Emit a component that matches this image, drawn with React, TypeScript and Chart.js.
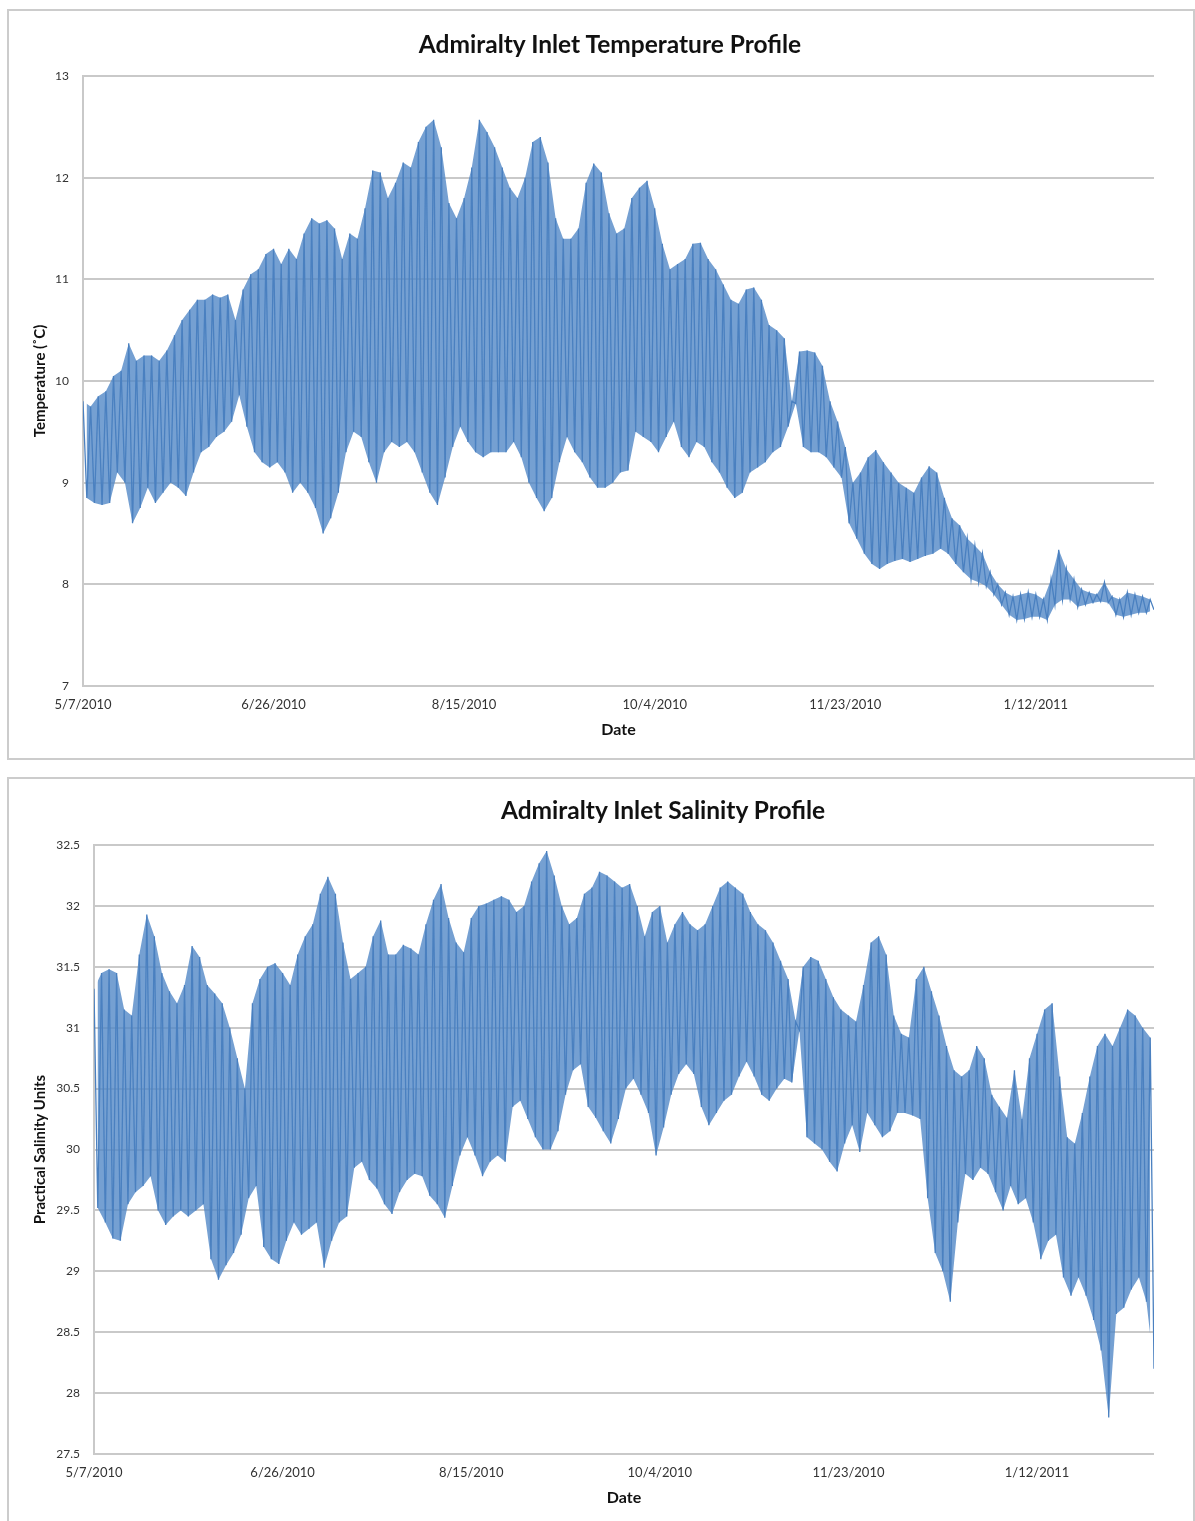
import React, { useEffect, useRef } from "react";
import { Chart, registerables } from "chart.js";

Chart.register(...registerables);

// Days since 5/7/2010 at which the envelope (tidal high / low) was read
const sampleDays = [
  0, 2, 4, 6, 8, 10, 12, 14, 16, 18,
  20, 22, 24, 26, 28, 30, 32, 34, 36, 38,
  40, 42, 44, 46, 48, 50, 52, 54, 56, 58,
  60, 62, 64, 66, 68, 70, 72, 74, 76, 78,
  80, 82, 84, 86, 88, 90, 92, 94, 96, 98,
  100, 102, 104, 106, 108, 110, 112, 114, 116, 118,
  120, 122, 124, 126, 128, 130, 132, 134, 136, 138,
  140, 142, 144, 146, 148, 150, 152, 154, 156, 158,
  160, 162, 164, 166, 168, 170, 172, 174, 176, 178,
  180, 182, 184, 186, 188, 190, 192, 194, 196, 198,
  200, 202, 204, 206, 208, 210, 212, 214, 216, 218,
  220, 222, 224, 226, 228, 230, 232, 234, 236, 238,
  240, 242, 244, 246, 248, 250, 252, 254, 256, 258,
  260, 262, 264, 266, 268, 270, 272, 274, 276, 278,
  280,
];

const tickDays = [0, 50, 100, 150, 200, 250];
const dateTickLabels = ["5/7/2010", "6/26/2010", "8/15/2010", "10/4/2010", "11/23/2010", "1/12/2011"];

// Temperature (°C)
const tempHigh = [
  9.8, 9.75, 9.85, 9.9, 10.05, 10.1, 10.37, 10.2, 10.25, 10.25,
  10.2, 10.3, 10.45, 10.6, 10.7, 10.8, 10.8, 10.85, 10.82, 10.85,
  10.6, 10.9, 11.05, 11.1, 11.25, 11.3, 11.15, 11.3, 11.2, 11.45,
  11.6, 11.55, 11.58, 11.5, 11.2, 11.45, 11.4, 11.7, 12.07, 12.05,
  11.8, 11.95, 12.15, 12.1, 12.35, 12.5, 12.57, 12.3, 11.75, 11.6,
  11.8, 12.1, 12.57, 12.45, 12.3, 12.1, 11.9, 11.8, 12.0, 12.35,
  12.4, 12.15, 11.6, 11.4, 11.4, 11.5, 11.95, 12.14, 12.05, 11.65,
  11.45, 11.5, 11.8, 11.9, 11.97, 11.7, 11.35, 11.1, 11.15, 11.2,
  11.35, 11.36, 11.2, 11.1, 10.95, 10.8, 10.76, 10.9, 10.92, 10.8,
  10.55, 10.5, 10.42, 9.8, 10.29, 10.3, 10.28, 10.15, 9.8, 9.6,
  9.35, 9.0, 9.1, 9.25, 9.32, 9.2, 9.1, 9.0, 8.95, 8.9,
  9.05, 9.16, 9.1, 8.85, 8.65, 8.58, 8.45, 8.38, 8.3, 8.12,
  8.0, 7.92, 7.88, 7.9, 7.92, 7.9, 7.85, 8.05, 8.34, 8.15,
  8.05, 7.95, 7.92, 7.9, 8.02, 7.88, 7.85, 7.92, 7.9, 7.88,
  7.85,
];
const tempLow = [
  8.85, 8.8, 8.78, 8.8, 9.1, 9.0, 8.6, 8.75, 8.95, 8.8,
  8.9, 9.0, 8.95, 8.87, 9.1, 9.3, 9.35, 9.45, 9.5, 9.6,
  9.86, 9.55, 9.3, 9.2, 9.15, 9.2, 9.1, 8.9, 9.0, 8.9,
  8.75, 8.5, 8.65, 8.9, 9.3, 9.5, 9.45, 9.2, 9.0, 9.3,
  9.4, 9.35, 9.4, 9.3, 9.1, 8.9, 8.78, 9.05, 9.35, 9.55,
  9.4, 9.3, 9.25, 9.3, 9.3, 9.3, 9.4, 9.25, 9.0, 8.85,
  8.72, 8.85, 9.2, 9.45, 9.3, 9.2, 9.05, 8.95, 8.95, 9.0,
  9.1, 9.12, 9.5, 9.45, 9.4, 9.3, 9.45, 9.6, 9.35, 9.25,
  9.4, 9.35, 9.2, 9.1, 8.95, 8.85, 8.9, 9.1, 9.15, 9.2,
  9.3, 9.35, 9.55, 9.78, 9.35, 9.3, 9.3, 9.25, 9.15, 9.05,
  8.6, 8.45, 8.3, 8.2, 8.15, 8.2, 8.23, 8.25, 8.22, 8.25,
  8.28, 8.3, 8.35, 8.3, 8.2, 8.12, 8.05, 8.02, 7.98, 7.9,
  7.8, 7.7, 7.65, 7.66, 7.68, 7.68, 7.65, 7.8, 7.85, 7.85,
  7.78, 7.8, 7.82, 7.83, 7.82, 7.7, 7.68, 7.7, 7.72, 7.72,
  7.75,
];

// Salinity (PSU)
const salHigh = [
  31.32, 31.45, 31.48, 31.45, 31.15, 31.1, 31.6, 31.93, 31.75, 31.45,
  31.3, 31.2, 31.35, 31.67, 31.58, 31.35, 31.28, 31.2, 31.0, 30.75,
  30.5, 31.2, 31.4, 31.5, 31.53, 31.45, 31.35, 31.6, 31.75, 31.85,
  32.1, 32.24, 32.1, 31.7, 31.4, 31.45, 31.5, 31.75, 31.88, 31.6,
  31.6, 31.68, 31.65, 31.6, 31.85, 32.05, 32.18, 31.9, 31.7, 31.62,
  31.9, 32.0, 32.02, 32.05, 32.08, 32.05, 31.95, 32.0, 32.2, 32.35,
  32.45, 32.25, 32.0, 31.85, 31.9, 32.1, 32.15, 32.28, 32.25, 32.2,
  32.15, 32.18, 32.0, 31.75, 31.95, 32.0, 31.7, 31.85, 31.95, 31.85,
  31.8, 31.85, 32.0, 32.15, 32.2, 32.15, 32.1, 31.95, 31.85, 31.8,
  31.7, 31.55, 31.4, 31.05, 31.5, 31.58, 31.55, 31.4, 31.25, 31.15,
  31.1, 31.05, 31.35, 31.7, 31.75, 31.6, 31.1, 30.95, 30.92, 31.4,
  31.5, 31.3, 31.1, 30.85, 30.65, 30.6, 30.65, 30.85, 30.75, 30.45,
  30.35, 30.26, 30.65, 30.25, 30.75, 30.95, 31.15, 31.2, 30.6, 30.1,
  30.05, 30.3, 30.6, 30.85, 30.95, 30.85, 31.0, 31.15, 31.1, 31.0,
  30.92,
];
const salLow = [
  29.52, 29.4, 29.27, 29.25, 29.55, 29.65, 29.7, 29.78, 29.5, 29.38,
  29.45, 29.5, 29.45, 29.5, 29.55, 29.1, 28.93, 29.05, 29.15, 29.3,
  29.6, 29.7, 29.2, 29.1, 29.06, 29.25, 29.4, 29.3, 29.35, 29.4,
  29.03, 29.25, 29.4, 29.45, 29.85, 29.9, 29.75, 29.68, 29.55, 29.47,
  29.65, 29.75, 29.8, 29.78, 29.62, 29.55, 29.44, 29.7, 29.95, 30.1,
  29.95, 29.78, 29.9, 29.95, 29.9, 30.35, 30.4, 30.25, 30.1, 30.0,
  30.0, 30.15, 30.45, 30.65, 30.7, 30.35, 30.26, 30.15, 30.05, 30.25,
  30.5, 30.58, 30.45, 30.3, 29.95, 30.18, 30.45, 30.62, 30.7, 30.62,
  30.35, 30.2, 30.3, 30.4, 30.45, 30.6, 30.72, 30.6, 30.45, 30.4,
  30.5, 30.58, 30.55, 30.98, 30.1, 30.05, 30.0, 29.9, 29.82, 30.05,
  30.2, 29.98, 30.3, 30.2, 30.1, 30.15, 30.3, 30.3, 30.28, 30.25,
  29.6, 29.15, 29.0, 28.75, 29.4, 29.8, 29.75, 29.85, 29.8, 29.65,
  29.5, 29.7, 29.55, 29.6, 29.4, 29.1, 29.25, 29.3, 28.95, 28.8,
  28.95, 28.8, 28.6, 28.35, 27.8, 28.65, 28.7, 28.85, 28.95, 28.75,
  28.2,
];

const LINE_COLOR = "#4a80c0";
const BAND_COLOR = "rgba(82, 136, 199, 0.8)";
const GRID_COLOR = "#c9c9c9";
const FONT = "Lato, 'Open Sans', sans-serif";

type Pt = { x: number; y: number };

function zigzag(days: number[], hi: number[], lo: number[]): Pt[] {
  const pts: Pt[] = [];
  for (let i = 0; i < days.length; i++) {
    pts.push({ x: days[i], y: hi[i] });
    pts.push({ x: days[i] + 1, y: lo[i] });
  }
  return pts;
}

function envelope(days: number[], vals: number[], shift: number): Pt[] {
  return days.map((d, i) => ({ x: d + shift, y: vals[i] }));
}

type Cfg = {
  days: number[];
  hi: number[];
  lo: number[];
  yMin: number;
  yMax: number;
  yStep: number;
  yTitle: string;
  padTop: number;
  padRight: number;
  yAxisWidth: number;
  xAxisHeight: number;
  xTitlePadBottom: number;
  yTitlePadTop: number;
};

function buildConfig(c: Cfg): any {
  return {
    type: "line",
    data: {
      datasets: [
        {
          label: "series",
          data: zigzag(c.days, c.hi, c.lo),
          borderColor: LINE_COLOR,
          borderWidth: 1.3,
          pointRadius: 0,
          tension: 0,
          fill: false,
        },
        {
          label: "upper",
          data: envelope(c.days, c.hi, 0),
          borderWidth: 0,
          borderColor: "rgba(0,0,0,0)",
          backgroundColor: BAND_COLOR,
          pointRadius: 0,
          tension: 0,
          fill: "+1",
        },
        {
          label: "lower",
          data: envelope(c.days, c.lo, 1),
          borderWidth: 0,
          borderColor: "rgba(0,0,0,0)",
          pointRadius: 0,
          tension: 0,
          fill: false,
        },
      ],
    },
    options: {
      animation: false,
      responsive: false,
      maintainAspectRatio: false,
      layout: { padding: { top: c.padTop, right: c.padRight, left: 0, bottom: 0 } },
      plugins: {
        legend: { display: false },
        tooltip: { enabled: false },
        title: { display: false },
      },
      scales: {
        x: {
          type: "linear",
          min: 0,
          max: 281,
          afterBuildTicks: (s: any) => {
            s.ticks = tickDays.map((v) => ({ value: v }));
          },
          afterFit: (s: any) => {
            s.height = c.xAxisHeight;
          },
          grid: { display: false, drawTicks: false },
          border: { display: false },
          ticks: {
            padding: 11,
            maxRotation: 0,
            autoSkip: false,
            color: "#333333",
            font: { family: FONT, size: 13 },
            callback: (v: number) => {
              const i = tickDays.indexOf(v);
              return i >= 0 ? dateTickLabels[i] : "";
            },
          },
          title: {
            display: true,
            text: "Date",
            color: "#111111",
            font: { family: FONT, size: 16, weight: "bold" },
            padding: { top: 0, bottom: c.xTitlePadBottom },
          },
        },
        y: {
          min: c.yMin,
          max: c.yMax,
          afterFit: (s: any) => {
            s.width = c.yAxisWidth;
          },
          grid: { color: GRID_COLOR, lineWidth: 2, drawTicks: false },
          border: { display: true, color: GRID_COLOR, width: 2 },
          ticks: {
            stepSize: c.yStep,
            padding: 14,
            color: "#333333",
            font: { family: FONT, size: 12 },
            callback: (v: number) => String(v),
          },
          title: {
            display: true,
            text: c.yTitle,
            color: "#111111",
            font: { family: FONT, size: 15, weight: "bold" },
            padding: { top: c.yTitlePadTop, bottom: 0 },
          },
        },
      },
    },
  };
}

function ChartCanvas(props: { cfg: Cfg; top: number; height: number }) {
  const ref = useRef<HTMLCanvasElement | null>(null);
  useEffect(() => {
    if (!ref.current) return;
    const chart = new Chart(ref.current, buildConfig(props.cfg));
    return () => chart.destroy();
  }, []);
  return (
    <canvas
      ref={ref}
      width={1195}
      height={props.height}
      style={{ position: "absolute", left: 0, top: props.top, width: 1195, height: props.height }}
    />
  );
}

export default function App() {
  const tempCfg: Cfg = {
    days: sampleDays,
    hi: tempHigh,
    lo: tempLow,
    yMin: 7,
    yMax: 13,
    yStep: 1,
    yTitle: "Temperature (˚C)",
    padTop: 76,
    padRight: 41,
    yAxisWidth: 83,
    xAxisHeight: 74,
    xTitlePadBottom: 20.4,
    yTitlePadTop: 31,
  };
  const salCfg: Cfg = {
    days: sampleDays,
    hi: salHigh,
    lo: salLow,
    yMin: 27.5,
    yMax: 32.5,
    yStep: 0.5,
    yTitle: "Practical Salinity Units",
    padTop: 75,
    padRight: 41,
    yAxisWidth: 94,
    xAxisHeight: 67,
    xTitlePadBottom: 13.4,
    yTitlePadTop: 31,
  };
  const frame: React.CSSProperties = {
    position: "absolute",
    boxSizing: "border-box",
    border: "2px solid #cccccc",
    background: "#ffffff",
  };
  const titleStyle: React.CSSProperties = {
    position: "absolute",
    transform: "translateX(-50%)",
    whiteSpace: "nowrap",
    fontFamily: FONT,
    fontWeight: 700,
    fontSize: 24.5,
    lineHeight: "28px",
    color: "#111111",
  };
  return (
    <div
      style={{
        position: "absolute",
        left: 0,
        top: 0,
        width: 1195,
        height: 1521,
        overflow: "hidden",
        background: "#ffffff",
      }}
    >
      <div style={{ ...frame, left: 7, top: 9, width: 1188, height: 751 }} />
      <div style={{ ...frame, left: 7, top: 777, width: 1188, height: 760 }} />
      <ChartCanvas cfg={tempCfg} top={0} height={760} />
      <ChartCanvas cfg={salCfg} top={770} height={751} />
      <div style={{ ...titleStyle, left: 610, top: 30 }}>Admiralty Inlet Temperature Profile</div>
      <div style={{ ...titleStyle, left: 663, top: 796 }}>Admiralty Inlet Salinity Profile</div>
    </div>
  );
}
